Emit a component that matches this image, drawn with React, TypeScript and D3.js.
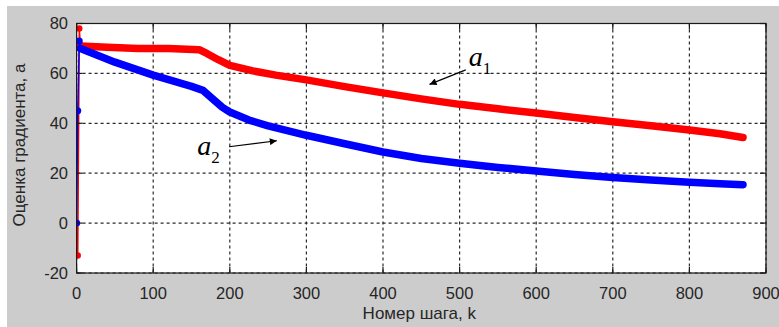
import React from "react";
import * as d3 from "d3";

// ---- data ----
const startSteps = [0, 1.5, 3.5, 5];
const startA1 = [0, -13, 78, 71];
const startA2 = [0, 45, 73, 70];

const stepsA1 = [5, 40, 80, 120, 160, 170, 185, 200, 230, 260, 300, 350, 400, 450, 500, 550, 600, 650, 700, 750, 800, 840, 870];
const valuesA1 = [71, 70.5, 70, 70, 69.5, 68, 65.5, 63.2, 61, 59.3, 57.4, 54.7, 52.2, 49.8, 47.6, 45.8, 44.1, 42.3, 40.6, 39, 37.3, 35.8, 34.3];

const stepsA2 = [5, 50, 100, 150, 165, 175, 190, 200, 225, 250, 300, 350, 400, 450, 500, 550, 600, 650, 700, 750, 800, 840, 870];
const valuesA2 = [70, 64.5, 59.3, 54.8, 53.2, 50.5, 46.5, 44.5, 41.3, 39, 35.2, 31.8, 28.5, 25.9, 24, 22.3, 20.9, 19.5, 18.3, 17.3, 16.4, 15.8, 15.4];

const xTicks = [0, 100, 200, 300, 400, 500, 600, 700, 800, 900];
const yTicks = [-20, 0, 20, 40, 60, 80];

const xLabel = "Номер шага, k";
const yLabel = "Оценка градиента, а";

// annotations
const annoLabels = ["a", "a"];
const annoSubs = ["1", "2"];
const annoText = [[512, 63], [157.6, 27.3]];
const annoFrom = [[508, 61.4], [199, 30.6]];
const annoTo = [[460.7, 55.6], [261.4, 33.0]];

export default function App() {
  const W = 779, H = 327;
  const x = d3.scaleLinear().domain([0, 900]).range([76.6, 766]);
  const y = d3.scaleLinear().domain([-20, 80]).range([273, 23.5]);
  const line = d3.line<[number, number]>().x(d => x(d[0])).y(d => y(d[1]));

  const zip = (a: number[], b: number[]) => a.map((v, i) => [v, b[i]] as [number, number]);
  const mainA1 = zip(stepsA1, valuesA1);
  const mainA2 = zip(stepsA2, valuesA2);
  const stA1 = zip(startSteps, startA1);
  const stA2 = zip(startSteps, startA2);

  const [x0, x1] = x.range();
  const [y0, y1] = y.range();
  const tickFont = "'Liberation Sans', Arial, sans-serif";
  const textColor = "#262626";

  return (
    <svg width={W} height={H} style={{ position: "absolute", left: 0, top: 0 }}>
      <defs>
        <marker id="arr" viewBox="0 0 10 10" refX="10" refY="5" markerWidth="10" markerHeight="7" markerUnits="userSpaceOnUse" orient="auto">
          <path d="M0,0 L10,5 L0,10 z" fill="#000" />
        </marker>
        <clipPath id="plot">
          <rect x={x0} y={y1} width={x1 - x0} height={y0 - y1} />
        </clipPath>
      </defs>
      <rect x={0} y={0} width={W} height={H} fill="#fff" />
      <rect x={7} y={6} width={W - 7} height={H - 6} fill="#cccccc" />
      <rect x={x0} y={y1} width={x1 - x0} height={y0 - y1} fill="#fff" />

      {/* grid */}
      {xTicks.map(t => (
        <line key={"gx" + t} x1={x(t)} x2={x(t)} y1={y1} y2={y0} stroke="#2a2a2a" strokeWidth={1.2} strokeDasharray="3,3" />
      ))}
      {yTicks.map(t => (
        <line key={"gy" + t} x1={x0} x2={x1} y1={y(t)} y2={y(t)} stroke="#2a2a2a" strokeWidth={1.2} strokeDasharray="3,3" />
      ))}

      {/* series */}
      <g clipPath="url(#plot)">
        <path d={line(stA1) || ""} fill="none" stroke="#ff0000" strokeWidth={1.5} />
        {stA1.map((d, i) => (
          <circle key={"ra" + i} cx={x(d[0])} cy={y(d[1])} r={3.2} fill="#ff0000" />
        ))}
        <path d={line(mainA1) || ""} fill="none" stroke="#ff0000" strokeWidth={7.5} strokeLinejoin="round" strokeLinecap="round" />
        <path d={line(stA2) || ""} fill="none" stroke="#0000ff" strokeWidth={1.5} />
        {stA2.map((d, i) => (
          <circle key={"ba" + i} cx={x(d[0])} cy={y(d[1])} r={3.5} fill="#0000ff" />
        ))}
        <path d={line(mainA2) || ""} fill="none" stroke="#0000ff" strokeWidth={7.5} strokeLinejoin="round" strokeLinecap="round" />
      </g>

      {/* frame + ticks */}
      <rect x={x0} y={y1} width={x1 - x0} height={y0 - y1} fill="none" stroke="#1a1a1a" strokeWidth={1.2} />
      {xTicks.map(t => (
        <g key={"tx" + t}>
          <line x1={x(t)} x2={x(t)} y1={y0} y2={y0 - 6} stroke="#1a1a1a" strokeWidth={1.2} />
          <line x1={x(t)} x2={x(t)} y1={y1} y2={y1 + 6} stroke="#1a1a1a" strokeWidth={1.2} />
          <text x={x(t)} y={299} textAnchor="middle" fontFamily={tickFont} fontSize={16.5} fill={textColor}>{t}</text>
        </g>
      ))}
      {yTicks.map(t => (
        <g key={"ty" + t}>
          <line x1={x0} x2={x0 + 6} y1={y(t)} y2={y(t)} stroke="#1a1a1a" strokeWidth={1.2} />
          <line x1={x1} x2={x1 - 6} y1={y(t)} y2={y(t)} stroke="#1a1a1a" strokeWidth={1.2} />
          <text x={68} y={y(t)} dy="0.36em" textAnchor="end" fontFamily={tickFont} fontSize={16.5} fill={textColor}>{t}</text>
        </g>
      ))}

      <text x={(x0 + x1) / 2 - 2} y={319} textAnchor="middle" fontFamily={tickFont} fontSize={17} fill={textColor}>{xLabel}</text>
      <text transform={`translate(25,145) rotate(-90)`} textAnchor="middle" fontFamily={tickFont} fontSize={17} fill={textColor}>{yLabel}</text>

      {/* annotations */}
      {annoLabels.map((lab, i) => (
        <g key={"an" + i}>
          <line x1={x(annoFrom[i][0])} y1={y(annoFrom[i][1])} x2={x(annoTo[i][0])} y2={y(annoTo[i][1])} stroke="#000" strokeWidth={1.2} markerEnd="url(#arr)" />
          <text x={x(annoText[i][0])} y={y(annoText[i][1])} fontFamily="'Liberation Serif', 'Times New Roman', serif" fontStyle="italic" fontSize={28} fill="#000">
            {lab}
            <tspan dy={8} fontStyle="normal" fontSize={17}>{annoSubs[i]}</tspan>
          </text>
        </g>
      ))}
    </svg>
  );
}
